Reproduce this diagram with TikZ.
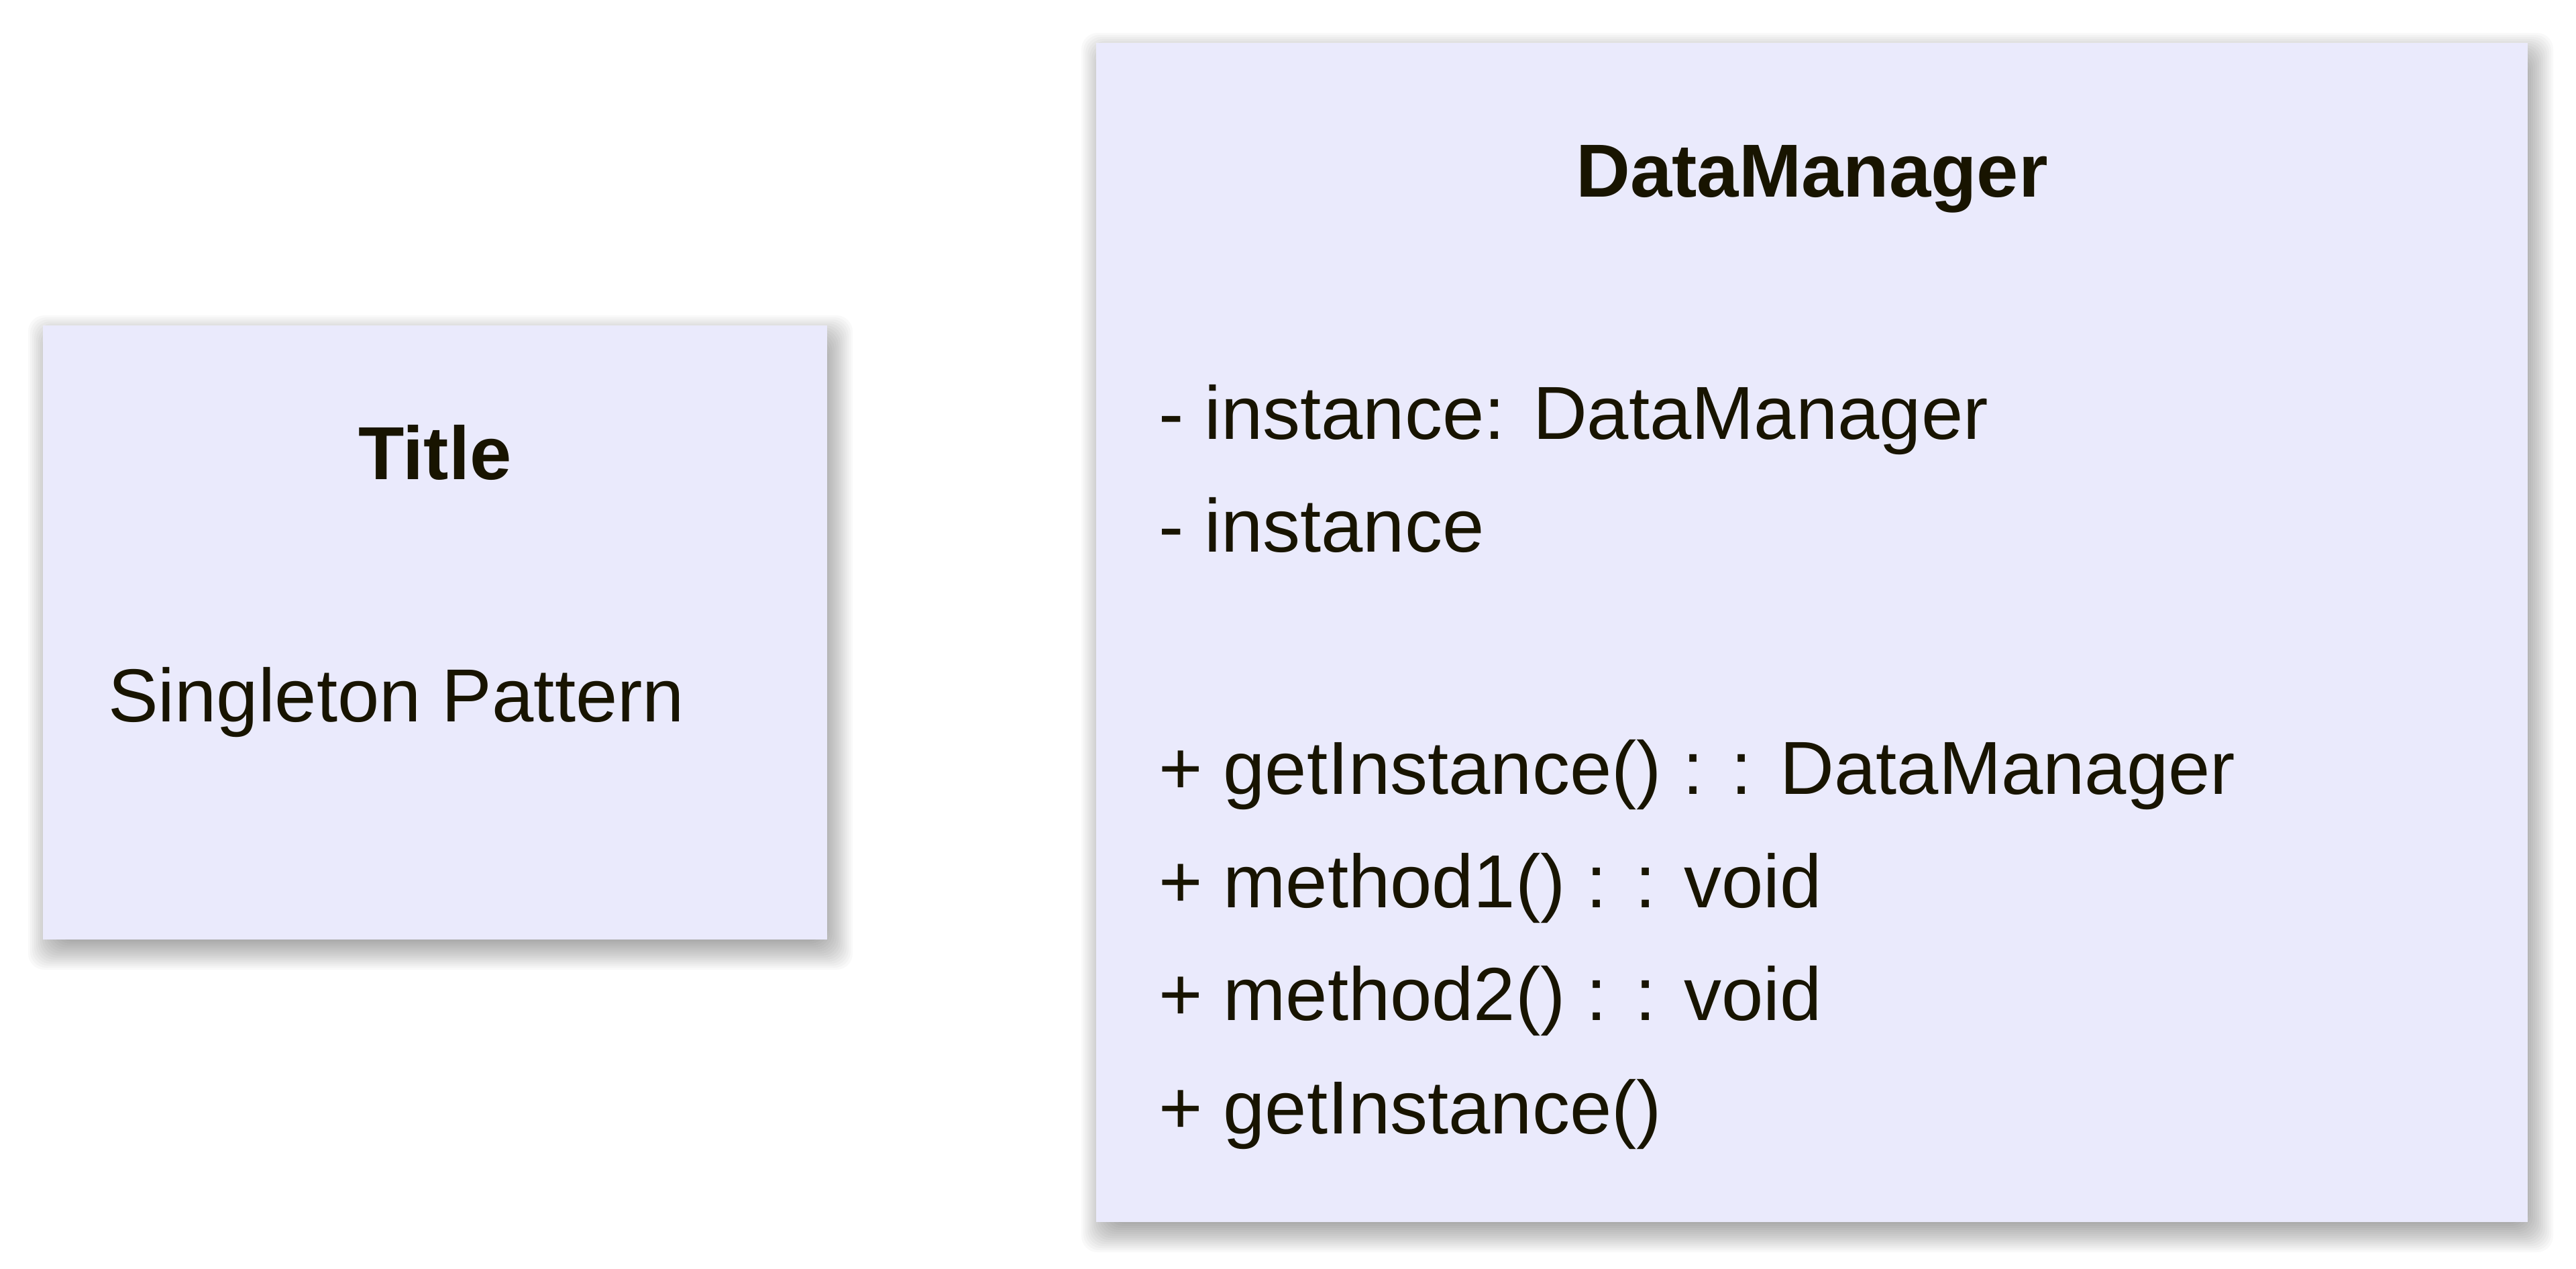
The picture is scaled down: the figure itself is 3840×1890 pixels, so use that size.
\documentclass[tikz,border=0pt]{standalone}
\usepackage{fontspec}
\setmainfont{Liberation Sans}
\usetikzlibrary{calc}
\definecolor{boxfill}{HTML}{EAEAFC}
\definecolor{ink}{HTML}{181400}
\newcommand{\myshadow}[4]{%
  \foreach \k in {-30,-27,...,30}{%
    \fill[black, opacity=0.022, rounded corners=24pt]
      (#1+8-\k, #2+15-\k) rectangle (#3+8+\k, #4+15+\k);
  }%
}
\tikzset{
  umlbox/.style={fill=boxfill, draw=none, inner sep=0pt, outer sep=0pt},
  txt/.style={text=ink, inner sep=0pt, outer sep=0pt, font=\fontsize{112}{134}\selectfont},
  bold/.style={txt, font=\fontsize{112}{134}\selectfont\bfseries},
}
\begin{document}
\begin{tikzpicture}[x=1pt,y=-1pt]
\useasboundingbox[fill=white] (0,0) rectangle (3840,1890);
% shadows
\myshadow{64}{485}{1233}{1400}
\myshadow{1634}{64}{3768}{1821}
% boxes
\node[umlbox, minimum width=1169pt, minimum height=915pt] (titlebox) at (648.5,942.5) {};
\node[umlbox, minimum width=2134pt, minimum height=1757pt] (classbox) at (2701,942.5) {};
% title box texts
\node[bold, anchor=base] (titlehead) at (648.5,714) {Title};
\node[txt, anchor=base west] (titletext) at (161,1075) {Singleton Pattern};
% class box texts
\node[bold, anchor=base] (classname) at (2701,293) {DataManager};
\node[txt, anchor=base west] (attr1) at (1727,654) {- instance: DataManager};
\node[txt, anchor=base west] (attr2) at (1727,822) {- instance};
\node[txt, anchor=base west] (meth1) at (1727,1183) {+ getInstance() : : DataManager};
\node[txt, anchor=base west] (meth2) at (1727,1352) {+ method1() : : void};
\node[txt, anchor=base west] (meth3) at (1727,1520) {+ method2() : : void};
\node[txt, anchor=base west] (meth4) at (1727,1689) {+ getInstance()};
\end{tikzpicture}
\end{document}
